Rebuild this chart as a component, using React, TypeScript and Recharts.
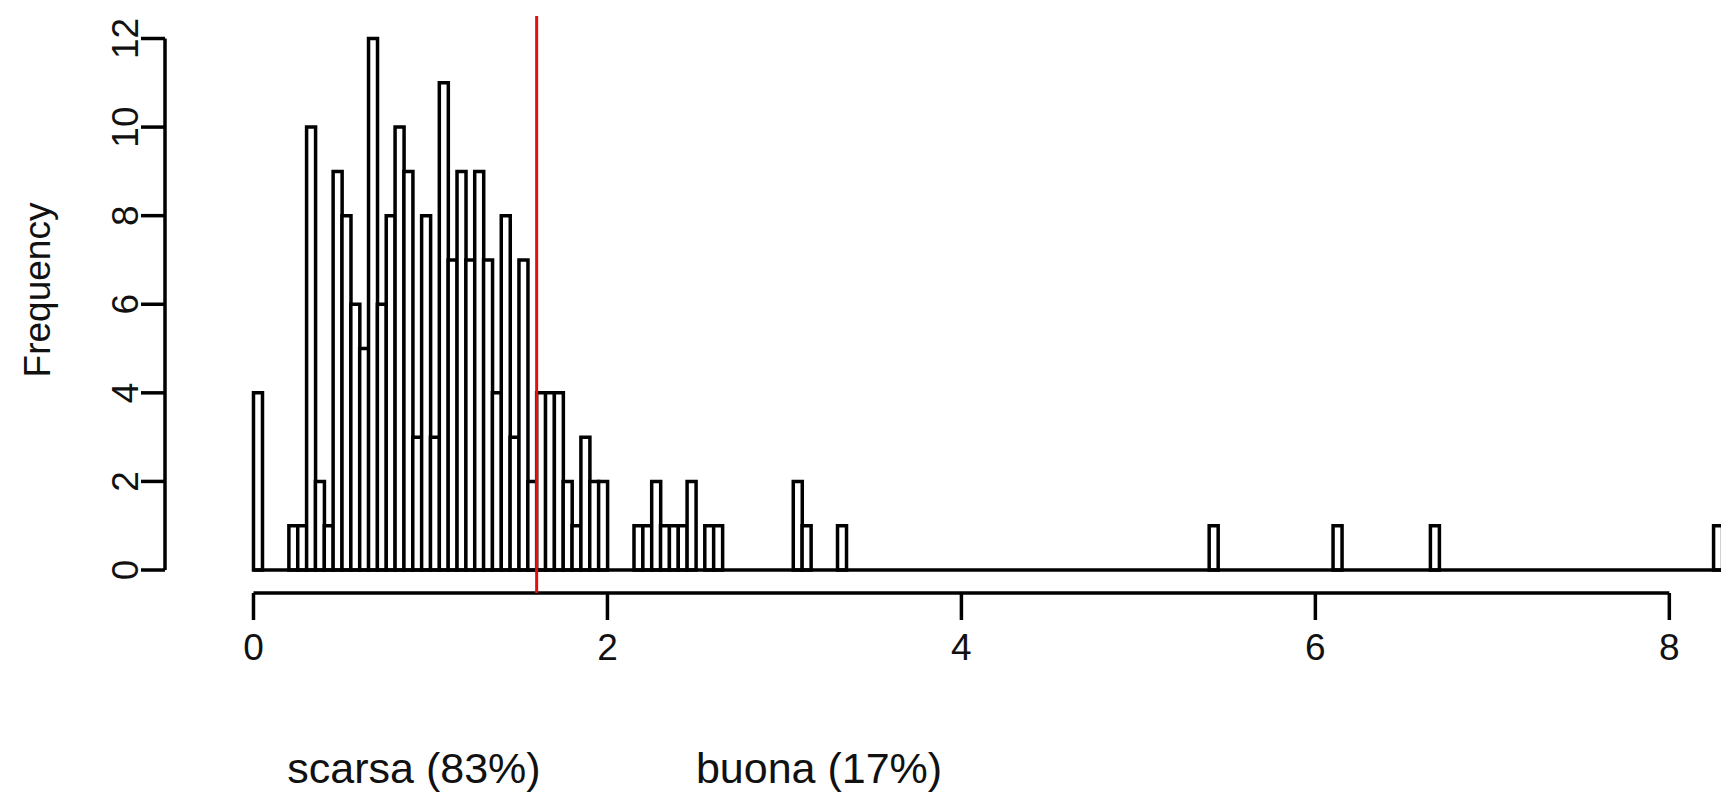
import { Bar, ComposedChart, ReferenceLine, XAxis, YAxis } from "recharts";

// histogram: bins of 0.05 starting at 0
const BIN_WIDTH = 0.05;
const LAST_BIN_END = 8.3;
const mainCounts = [
  4, 0, 0, 0, 1, 1, 10, 2, 1, 9,
  8, 6, 5, 12, 6, 8, 10, 9, 3, 8,
  3, 11, 7, 9, 7, 9, 7, 4, 8, 3,
  7, 2, 4, 4, 4, 2, 1, 3, 2, 2,
  0, 0, 0, 1, 1, 2, 1, 1, 1, 2,
  0, 1, 1, 0, 0, 0, 0, 0, 0, 0,
  0, 2, 1, 0, 0, 0, 1
];
const outlierStarts = [5.4, 6.1, 6.65, 8.25];
const outlierCounts = [1, 1, 1, 1];
const cutoff = 1.6;
const xTicks = [0, 2, 4, 6, 8];
const yTicks = [0, 2, 4, 6, 8, 10, 12];
const groupLabels = ["scarsa (83%)", "buona (17%)"];

const nBins = Math.round(LAST_BIN_END / BIN_WIDTH);
const bins = Array.from({ length: nBins }, (_, i) => ({
  mid: i * BIN_WIDTH + BIN_WIDTH / 2,
  count: mainCounts[i] ?? 0
}));
outlierStarts.forEach((s, j) => {
  bins[Math.round(s / BIN_WIDTH)].count += outlierCounts[j];
});

const font = "'Liberation Sans', Arial, Helvetica, sans-serif";
const ink = "#111";
const lw = 3.5;

function YTick({ x, y, payload }: any) {
  return (
    <text
      x={x}
      y={y}
      transform={`rotate(-90 ${x} ${y})`}
      textAnchor="middle"
      dominantBaseline="central"
      fontSize={37}
      fontFamily={font}
      fill={ink}
    >
      {payload.value}
    </text>
  );
}

export default function App() {
  return (
    <div style={{ position: "absolute", left: 0, top: 0, width: 1721, height: 796, background: "#fff" }}>
      <ComposedChart
        width={1721}
        height={796}
        data={bins}
        margin={{ top: 16, right: 0, bottom: 143, left: 0 }}
        barCategoryGap={0}
        barGap={0}
      >
        <XAxis
          type="number"
          dataKey="mid"
          domain={[-0.5, 8.292]}
          allowDataOverflow
          ticks={xTicks}
          axisLine={false}
          tickSize={27}
          tickMargin={14}
          tickLine={{ stroke: "#000", strokeWidth: lw }}
          tick={{ fontSize: 37, fill: ink, fontFamily: font }}
          height={60}
        />
        <YAxis
          type="number"
          domain={[-0.519, 12.508]}
          allowDataOverflow
          ticks={yTicks}
          axisLine={false}
          tickSize={24}
          tickMargin={15}
          tickLine={{ stroke: "#000", strokeWidth: lw }}
          tick={<YTick />}
          width={165}
        />
        <Bar dataKey="count" fill="#fff" stroke="#000" strokeWidth={lw} isAnimationActive={false} />
        <ReferenceLine segment={[{ x: 0, y: 0 }, { x: LAST_BIN_END, y: 0 }]} stroke="#000" strokeWidth={lw} ifOverflow="visible" />
        <ReferenceLine segment={[{ x: -0.5, y: 0 }, { x: -0.5, y: 12 }]} stroke="#000" strokeWidth={lw} ifOverflow="visible" />
        <ReferenceLine segment={[{ x: 0, y: -0.519 }, { x: 8, y: -0.519 }]} stroke="#000" strokeWidth={lw} ifOverflow="visible" />
        <ReferenceLine x={cutoff} stroke="#dd1111" strokeWidth={3} />
      </ComposedChart>
      <div
        style={{
          position: "absolute",
          left: 38,
          top: 290,
          transform: "translate(-50%, -50%) rotate(-90deg)",
          fontFamily: font,
          fontSize: 37,
          color: ink,
          whiteSpace: "nowrap"
        }}
      >
        Frequency
      </div>
      {groupLabels.map((g, i) => (
        <div
          key={g}
          style={{
            position: "absolute",
            left: i === 0 ? 414 : 819,
            top: 768,
            transform: "translate(-50%, -50%)",
            fontFamily: font,
            fontSize: 43,
            color: ink,
            whiteSpace: "nowrap"
          }}
        >
          {g}
        </div>
      ))}
    </div>
  );
}
